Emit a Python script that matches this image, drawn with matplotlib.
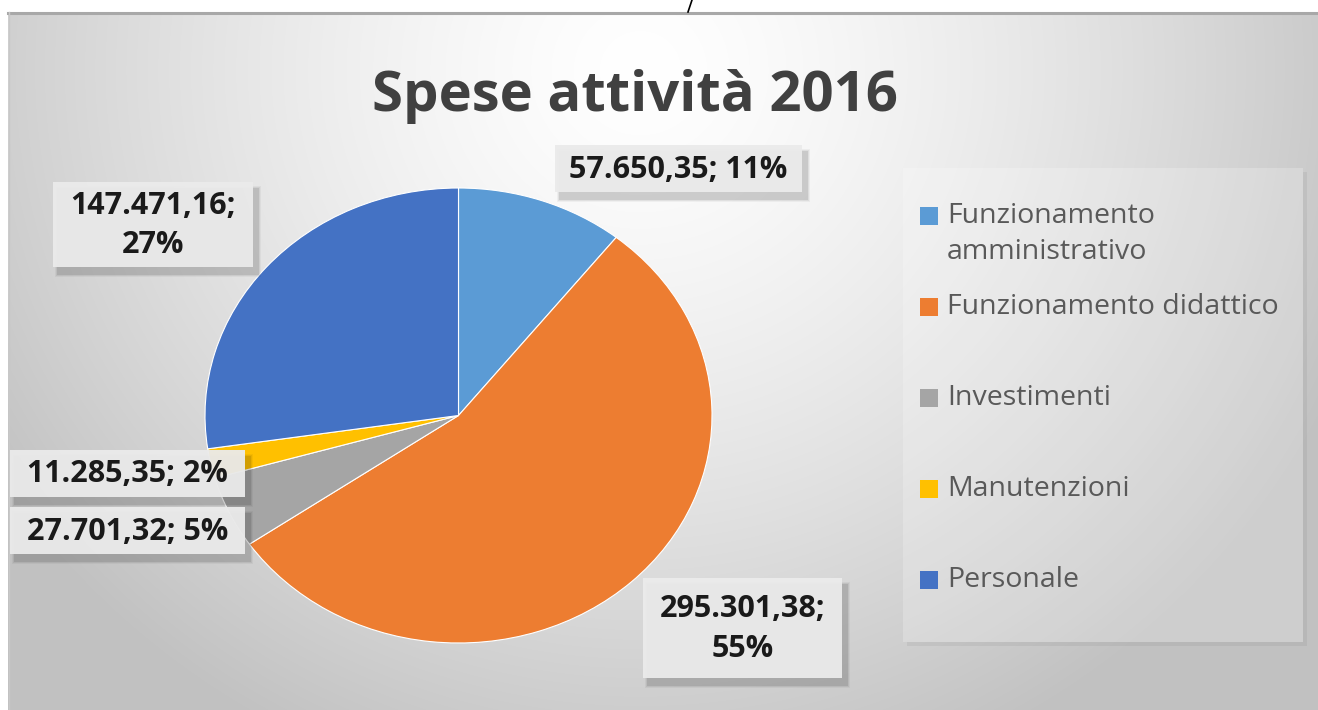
import numpy as np
import matplotlib
matplotlib.use("Agg")
import matplotlib.pyplot as plt
from matplotlib.patches import Rectangle

# ---------------- data ----------------
categories = ["Funzionamento\namministrativo", "Funzionamento didattico",
              "Investimenti", "Manutenzioni", "Personale"]
values = [57650.35, 295301.38, 27701.32, 11285.35, 147471.16]
colors = ["#5B9BD5", "#ED7D31", "#A5A5A5", "#FFC000", "#4472C4"]
title = "Spese attività 2016"

W, H = 1318, 710
FONT = "Open Sans"

def it_num(v):
    s = f"{v:,.2f}"
    return s.replace(",", "X").replace(".", ",").replace("X", ".")

total = sum(values)
pcts = [round(v / total * 100) for v in values]

fig = plt.figure(figsize=(W / 100, H / 100), dpi=100)

# ---------- background (pixel coordinates) ----------
bg = fig.add_axes([0, 0, 1, 1])
bg.set_xlim(0, W)
bg.set_ylim(H, 0)
bg.axis("off")

yy, xx = np.mgrid[0:H, 0:W]
d = np.sqrt(((xx - 640) / 720.0) ** 2 + ((yy - 70) / 700.0) ** 2)
g = np.clip(1.0 - 0.22 * d ** 1.4, 0.76, 1.0)
img = np.dstack([g, g, g])
img[:12, :, :] = 1.0
img[:, :8, :] = 1.0
bg.imshow(img, extent=(0, W, H, 0), aspect="auto", zorder=0, interpolation="bilinear")
bg.plot([8, W], [13, 13], color="#a8a8a8", lw=2.2, zorder=1)
bg.plot([8.5, 8.5], [12, H], color="#c8c8c8", lw=1, zorder=1)
bg.plot([688, 692], [12, 0], color="black", lw=1.2, zorder=1)

# title
bg.text(635, 97, title, ha="center", va="center", fontsize=40.5,
        fontweight="bold", color="#404040", family=FONT, zorder=3)

# ---------- legend ----------
bg.add_patch(Rectangle((903, 168), 400, 474, fc="white", ec="none", alpha=0.22, zorder=2))
bg.add_patch(Rectangle((1303, 172), 4, 474, fc="black", ec="none", alpha=0.05, zorder=2))
bg.add_patch(Rectangle((907, 642), 396, 4, fc="black", ec="none", alpha=0.05, zorder=2))

leg_y = [216, 307, 398, 489, 580]
for cat, col, y in zip(categories, colors, leg_y):
    bg.add_patch(Rectangle((920, y - 9), 18, 18, fc=col, ec="none", zorder=3))
    lines = cat.split("\n")
    for i, ln in enumerate(lines):
        bg.text(947, y + i * 36, ln, ha="left", va="center", fontsize=20.5,
                color="#595959", family=FONT, zorder=3)

# ---------- pie ----------
px0, px1, py0, py1 = 205, 712, 188, 643
pax = fig.add_axes([px0 / W, 1 - py1 / H, (px1 - px0) / W, (py1 - py0) / H])
pax.pie(values, colors=colors, startangle=90, counterclock=False,
        wedgeprops=dict(edgecolor="white", linewidth=0.8))
pax.set_aspect("auto")
pax.set_xlim(-1, 1)
pax.set_ylim(-1, 1)
pax.axis("off")
pax.patch.set_alpha(0)

# ---------- data labels ----------
label_texts = [f"{it_num(values[0])}; {pcts[0]}%",
               f"{it_num(values[1])};\n{pcts[1]}%",
               f"{it_num(values[2])}; {pcts[2]}%",
               f"{it_num(values[3])}; {pcts[3]}%",
               f"{it_num(values[4])};\n{pcts[4]}%"]
# boxes: (x0, y0, x1, y1) in pixels
boxes = [(555, 145, 802, 192),
         (643, 578, 842, 678),
         (10, 507, 245, 554),
         (10, 450, 245, 497),
         (53, 182, 253, 267)]
lab = fig.add_axes([0, 0, 1, 1])
lab.set_xlim(0, W)
lab.set_ylim(H, 0)
lab.axis("off")
lab.patch.set_alpha(0)

def shadow_box(ax, x0, y0, x1, y1, z, off=(5, 7)):
    for k, a in enumerate([0.04, 0.06, 0.09]):
        grow = 3 - k
        ax.add_patch(Rectangle((x0 + off[0] - grow, y0 + off[1] - grow),
                               x1 - x0 + 2 * grow, y1 - y0 + 2 * grow,
                               fc="black", ec="none", alpha=a, zorder=z))
    ax.add_patch(Rectangle((x0, y0), x1 - x0, y1 - y0, fc="#e4e4e4", ec="none",
                           alpha=0.93, zorder=z + 0.5))
    ax.add_patch(Rectangle((x0, y0), x1 - x0, y1 - y0, fc="white", ec="none",
                           alpha=0.25, zorder=z + 0.6))

for txt, (x0, y0, x1, y1) in zip(label_texts, boxes):
    shadow_box(lab, x0, y0, x1, y1, 4)
    lab.text((x0 + x1) / 2, (y0 + y1) / 2 + 1, txt, ha="center", va="center",
             fontsize=22, fontweight="bold", color="#1a1a1a", family=FONT,
             linespacing=1.4, zorder=6)

fig.savefig("out.png", dpi=100)
